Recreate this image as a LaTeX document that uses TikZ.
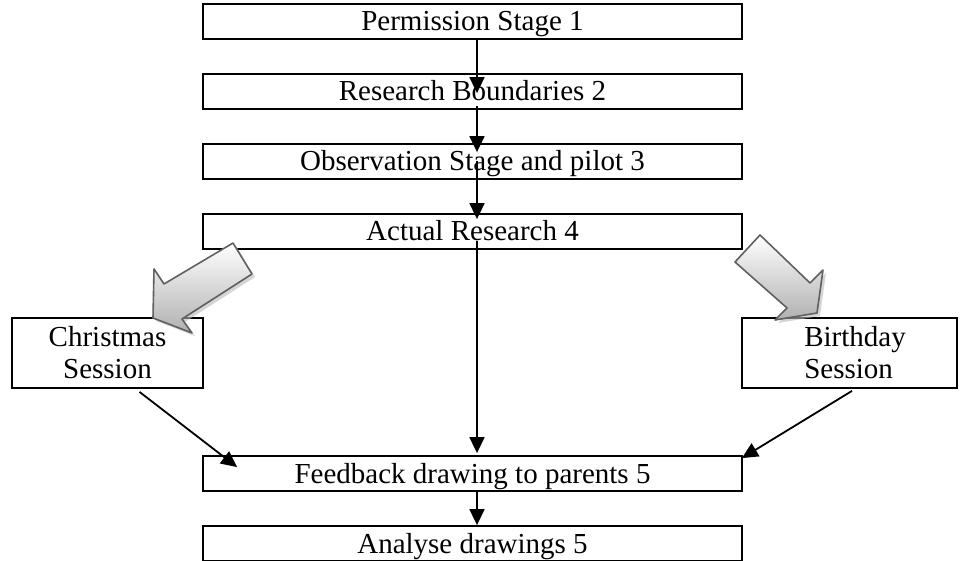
\documentclass[tikz,border=0pt]{standalone}
\usepackage{fontspec}
\setmainfont{Liberation Serif}
\usetikzlibrary{arrows.meta}

\begin{document}
\begin{tikzpicture}[x=1pt,y=-1pt,
  every node/.style={font=\fontsize{29}{32}\selectfont},
  stagebox/.style={draw,line width=1.8pt,minimum width=539pt,minimum height=35pt,
    inner sep=0pt,text height=19pt,text depth=0pt},
  sidebox/.style={draw,line width=1.8pt,minimum height=70pt,inner sep=0pt},
  flow/.style={line width=1.8pt,-{Triangle[length=16pt,width=15pt]}},
  blockarrow/.style={draw=gray!75!black,line width=1.6pt,line join=round,
    top color=white,bottom color=gray!62},
  blockshadow/.style={fill=gray!55,opacity=0.6}
]
\useasboundingbox (0,0) rectangle (961,561);

% main sequence of stages
\node[stagebox] (s1) at (472.5,21.5)  {Permission Stage 1};
\node[stagebox] (s2) at (472.5,91.5)  {Research Boundaries 2};
\node[stagebox] (s3) at (472.5,161.5) {Observation Stage and pilot 3};
\node[stagebox] (s4) at (472.5,231.5) {Actual Research 4};
\node[stagebox] (fb) at (472.5,473.5) {Feedback drawing to parents 5};
\node[stagebox] (an) at (472.5,543.5) {Analyse drawings 5};

% the two sessions
\node[sidebox,minimum width=191pt] (xmas) at (107.5,353) {};
\node[align=center,inner sep=0pt] (xmastxt) at (xmas.center) {Christmas\\Session};
\node[sidebox,minimum width=215pt] (bday) at (849.5,353) {};
\node[align=left,inner sep=0pt,anchor=west] (bdaytxt) at ([xshift=63pt]bday.west) {Birthday\\Session};

% block arrows from the research stage to the sessions
\begin{scope}
  \fill[blockshadow,shift={(3,3)}]
    (233,243) -- (164,284) -- (154,269) -- (153,318) -- (192,333) -- (182,319) -- (252,274) -- cycle;
  \shade[blockarrow]
    (233,243) -- (164,284) -- (154,269) -- (153,318) -- (192,333) -- (182,319) -- (252,274) -- cycle;
  \fill[blockshadow,shift={(3,3)}]
    (760,235) -- (810,283) -- (823,270) -- (817,313) -- (775,320) -- (787,308) -- (735,262) -- cycle;
  \shade[blockarrow]
    (760,235) -- (810,283) -- (823,270) -- (817,313) -- (775,320) -- (787,308) -- (735,262) -- cycle;
\end{scope}

% connectors
\draw[flow] ([xshift=4.5pt]s1.south) -- ([xshift=4.5pt,yshift=-20pt]s2.north);
\draw[flow] ([xshift=4.5pt,yshift=4pt]s2.south) -- ([xshift=4.5pt,yshift=-9pt]s3.north);
\draw[flow] ([xshift=4.5pt,yshift=-18pt]s3.north) -- ([xshift=4.5pt,yshift=-6pt]s4.north);
\draw[flow] ([xshift=4.5pt,yshift=-28pt]s4.north) -- ([xshift=4.5pt,yshift=2pt]fb.north);
\draw[flow] ([xshift=4.5pt]fb.south) -- ([xshift=4.5pt]an.north);
\draw[flow] ([xshift=32pt,yshift=-3pt]xmas.south) -- ([xshift=35pt,yshift=-12pt]fb.north west);
\draw[flow] ([xshift=2.5pt,yshift=-2pt]bday.south) -- ([xshift=-1pt,yshift=-3pt]fb.north east);
\end{tikzpicture}
\end{document}
